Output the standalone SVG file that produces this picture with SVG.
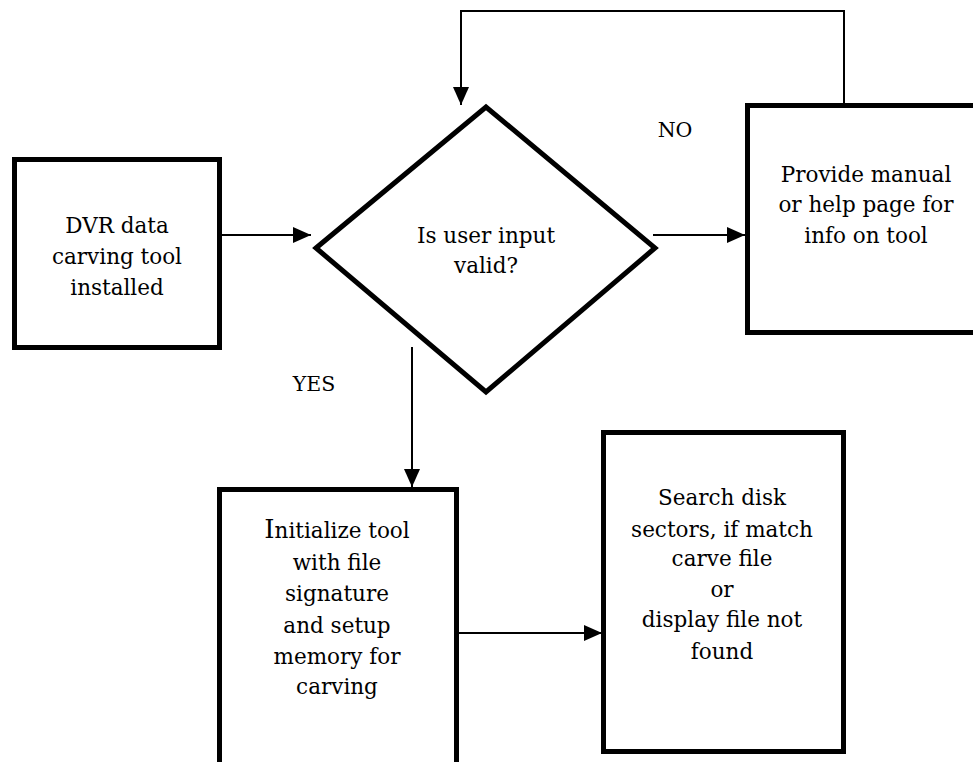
<svg xmlns="http://www.w3.org/2000/svg" width="973" height="762" viewBox="0 0 973 762">
<defs>
<marker id="ah" markerUnits="userSpaceOnUse" markerWidth="20" markerHeight="16" refX="18" refY="8" orient="auto">
<path d="M0,0 L18,8 L0,16 Z" fill="#000"/>
</marker>
<style>
.box{fill:#fff;stroke:#000;stroke-width:5}
.ln{fill:none;stroke:#000;stroke-width:2}
</style>
</defs>
<rect width="973" height="762" fill="#fff"/>
<g id="connectors">
<line class="ln" x1="222" y1="235" x2="311" y2="235" marker-end="url(#ah)"/>
<polyline class="ln" points="844,104 844,11 461,11 461,105" marker-end="url(#ah)"/>
<line class="ln" x1="653" y1="235" x2="745" y2="235" marker-end="url(#ah)"/>
<line class="ln" x1="412" y1="347" x2="412" y2="487" marker-end="url(#ah)"/>
<line class="ln" x1="459" y1="633" x2="602" y2="633" marker-end="url(#ah)"/>
</g>
<g font-family="DejaVu Serif, serif" font-size="21.5" text-anchor="middle" fill="#000">
<g id="start">
<rect class="box" x="14.5" y="159.5" width="205" height="188"/>
<text x="117" y="233">DVR data</text>
<text x="117" y="264">carving tool</text>
<text x="117" y="295">installed</text>
</g>
<g id="decision">
<polygon class="box" points="316,248 486,107 655,248 486,392"/>
<text x="486" y="243">Is user input</text>
<text x="486" y="273">valid?</text>
</g>
<g id="help">
<rect class="box" x="747.5" y="105.5" width="260" height="227"/>
<text x="866" y="182">Provide manual</text>
<text x="866" y="212">or help page for</text>
<text x="866" y="243">info on tool</text>
</g>
<g id="init">
<rect class="box" x="219.5" y="489.5" width="237" height="300"/>
<text x="337" y="538"><tspan font-size="26">I</tspan>nitialize tool</text>
<text x="337" y="570">with file</text>
<text x="337" y="601">signature</text>
<text x="337" y="633">and setup</text>
<text x="337" y="664">memory for</text>
<text x="337" y="694">carving</text>
</g>
<g id="search">
<rect class="box" x="603.5" y="432.5" width="240" height="319"/>
<text x="722" y="505">Search disk</text>
<text x="722" y="537">sectors, if match</text>
<text x="722" y="566">carve file</text>
<text x="722" y="597">or</text>
<text x="722" y="627">display file not</text>
<text x="722" y="659">found</text>
</g>
<g id="labels" font-size="20.5">
<text x="675" y="137">NO</text>
<text x="314" y="391">YES</text>
</g>
</g>
</svg>
